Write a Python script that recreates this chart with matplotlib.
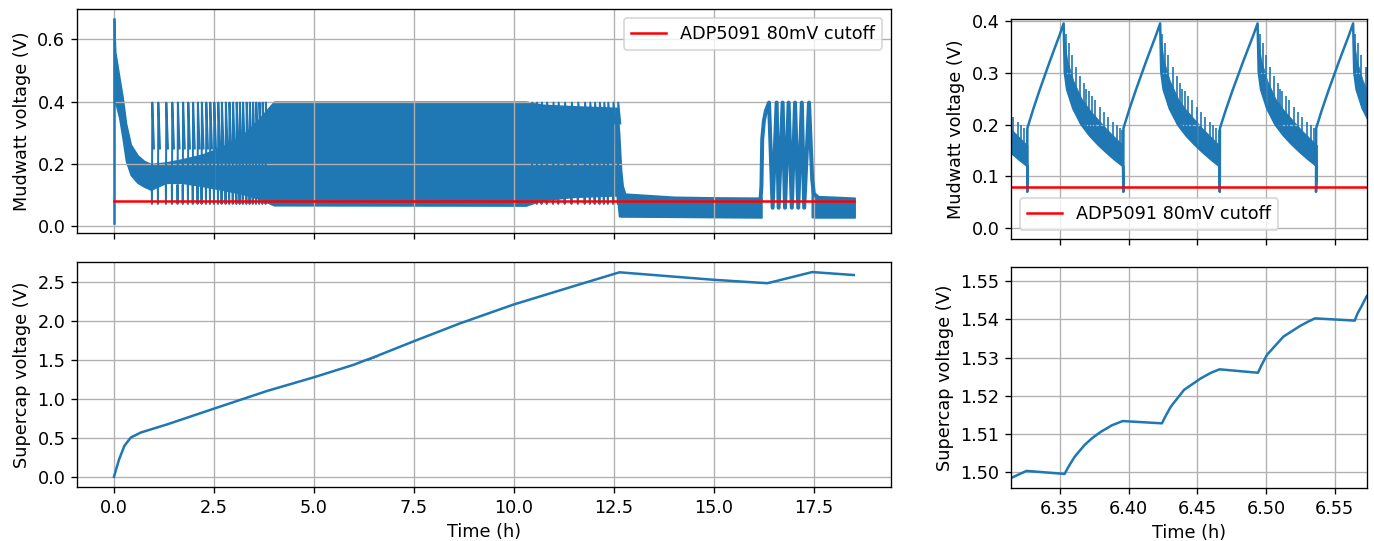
import numpy as np
import matplotlib.pyplot as plt

plt.rcParams["font.size"] = 10.6

BLUE = "#1f77b4"

# ---------------- Mudwatt voltage, whole run (h, V) ----------------
first_t = [0.0, 0.0]
first_v = [0.012, 0.664]

# initial MPPT transient, upper/lower edge of the thick band
start_t = [0.00, 0.03, 0.13, 0.22, 0.30, 0.42, 0.59, 0.75, 0.92]
start_hi = [0.664, 0.56, 0.48, 0.41, 0.33, 0.262, 0.228, 0.21, 0.20]
start_lo = [0.40, 0.40, 0.35, 0.28, 0.21, 0.165, 0.14, 0.128, 0.118]

# solid part of the harvesting band, then the low band after 12.7 h
band_t = [0.92, 1.3, 1.7, 2.2, 2.7, 3.2, 3.6, 4.0, 10.3, 10.7, 11.5, 12.58,
          12.63, 12.68, 12.72, 12.78, 14.0, 15.0, 16.19]
band_lo = [0.118, 0.14, 0.14, 0.13, 0.118, 0.105, 0.09, 0.068, 0.067, 0.085,
           0.095, 0.10, 0.033, 0.032, 0.032, 0.032, 0.031, 0.030, 0.029]
band_hi = [0.20, 0.205, 0.215, 0.23, 0.255, 0.29, 0.34, 0.40, 0.40, 0.39,
           0.385, 0.38, 0.30, 0.18, 0.13, 0.105, 0.095, 0.093, 0.092]

# separate charge cycles visible at the start and the end of the dense part
early_cycles = [0.95, 1.10, 1.30, 1.45, 1.59, 1.72, 1.85, 1.97, 2.09, 2.19,
                2.30, 2.40, 2.50, 2.60, 2.69, 2.79, 2.88, 2.97, 3.06, 3.14,
                3.22, 3.31, 3.39, 3.47, 3.55, 3.63, 3.71, 3.79]
late_cycles = [10.45, 10.57, 10.69, 10.82, 10.98, 11.11, 11.27, 11.44, 11.60,
               11.77, 11.90, 12.02, 12.14, 12.25, 12.35, 12.48, 12.60]

# second burst of cycles
burst_t = [16.17, 16.19, 16.21, 16.25, 16.30, 16.38, 16.47, 16.57, 16.62,
           16.72, 16.78, 16.87, 16.95, 17.03, 17.11, 17.20, 17.26, 17.38,
           17.46, 17.50, 17.56]
burst_v = [0.09, 0.13, 0.28, 0.337, 0.37, 0.397, 0.06, 0.397, 0.06, 0.397,
           0.06, 0.397, 0.06, 0.397, 0.06, 0.397, 0.06, 0.397, 0.15, 0.105, 0.098]

tail_t = [17.45, 17.52, 17.6, 18.0, 18.52]
tail_lo = [0.03, 0.029, 0.029, 0.029, 0.029]
tail_hi = [0.12, 0.10, 0.097, 0.095, 0.092]

cutoff_t = [0.0, 18.5]
cutoff_v = [0.08, 0.08]

# ---------------- Mudwatt voltage, zoomed cycles ----------------
dip_t = [6.2563, 6.3263, 6.3962, 6.4664, 6.5364]
peak_t = [6.2833, 6.3528, 6.4230, 6.4939, 6.5634]
ramp_frac = [0.0, 0.004, 0.166, 0.347, 0.619, 0.894, 1.0]
ramp_v = [0.070, 0.193, 0.230, 0.268, 0.322, 0.374, 0.3955]
# decay after the peak (h after peak)
decay_dt = [0.0008, 0.0025, 0.0070, 0.0130, 0.0190, 0.0250, 0.0310, 0.0370, 0.0432]
decay_lo = [0.302, 0.268, 0.231, 0.200, 0.179, 0.162, 0.147, 0.133, 0.120]
decay_hi = [0.36, 0.325, 0.285, 0.25, 0.228, 0.21, 0.192, 0.176, 0.16]
pulse_dt = [0.0015, 0.0036, 0.0060, 0.0092, 0.0121, 0.0145, 0.0162, 0.0181,
            0.0205, 0.0229, 0.0265, 0.0294, 0.0326, 0.0362, 0.0386, 0.0410, 0.0425]
pulse_base = [0.29, 0.258, 0.238, 0.22, 0.204, 0.194, 0.188, 0.182, 0.175,
              0.168, 0.158, 0.151, 0.143, 0.135, 0.129, 0.124, 0.121]
pulse_top = [0.375, 0.357, 0.334, 0.312, 0.293, 0.280, 0.268, 0.264, 0.255,
             0.247, 0.234, 0.225, 0.215, 0.205, 0.199, 0.193, 0.19]

# ---------------- Supercap voltage ----------------
cap_t = [0.0, 0.05, 0.13, 0.26, 0.42, 0.67, 1.34, 2.5, 3.83, 5.0, 6.0, 6.30,
         6.3150, 6.3258, 6.3535, 6.3565, 6.3608, 6.368, 6.3735, 6.380, 6.388,
         6.3958, 6.4243, 6.4265, 6.4308, 6.4404, 6.4525, 6.4600, 6.4662,
         6.4942, 6.4965, 6.5007, 6.5127, 6.5248, 6.5310, 6.5357, 6.5646,
         6.5665, 6.5694, 6.5731, 6.58, 7.5, 8.65, 9.98, 11.48, 12.64, 14.97,
         16.34, 17.46, 18.50]
cap_v = [0.0, 0.09, 0.226, 0.396, 0.503, 0.567, 0.673, 0.873, 1.10, 1.275,
         1.436, 1.4955, 1.4984, 1.5002, 1.4994, 1.5014, 1.5039, 1.507, 1.5088,
         1.5105, 1.5122, 1.5133, 1.5127, 1.5143, 1.5171, 1.5215, 1.5245,
         1.5260, 1.5269, 1.5260, 1.5278, 1.5307, 1.5355, 1.5383, 1.5395,
         1.5403, 1.5397, 1.5415, 1.5434, 1.5460, 1.549, 1.737, 1.965, 2.205,
         2.44, 2.62, 2.525, 2.48, 2.623, 2.585]


def cycle_marks(times, base, peak, tail, rise, fall):
    xs, ys = [], []
    for s in times:
        xs += [s - 0.005, s, s + rise, s + fall, np.nan]
        ys += [base, 0.072, peak, tail, np.nan]
    return xs, ys


W, H = 1374, 541
fig = plt.figure(figsize=(W / 120, H / 120), dpi=120)


def box(left, top, right, bottom):
    return [left / W, (H - bottom) / H, (right - left) / W, (bottom - top) / H]


ax1 = fig.add_axes(box(77, 9, 891, 233))
ax2 = fig.add_axes(box(77, 262, 891, 487), sharex=ax1)
ax3 = fig.add_axes(box(1011, 19, 1367, 239))
ax4 = fig.add_axes(box(1011, 267, 1367, 488), sharex=ax3)

# overview mudwatt
ax1.plot(first_t, first_v, color=BLUE)
ax1.fill_between(start_t, start_lo, start_hi, color=BLUE, lw=1)
ax1.fill_between(band_t, band_lo, band_hi, color=BLUE, lw=1)
ax1.fill_between(tail_t, tail_lo, tail_hi, color=BLUE, lw=1)
ex, ey = cycle_marks(early_cycles, 0.13, 0.397, 0.25, 0.008, 0.05)
ax1.plot(ex, ey, color=BLUE, lw=1.2)
lx, ly = cycle_marks(late_cycles, 0.10, 0.397, 0.33, 0.01, 0.06)
ax1.plot(lx, ly, color=BLUE, lw=1.2)
ax1.plot(burst_t, burst_v, color=BLUE, lw=2.4)
ax1.plot(cutoff_t, cutoff_v, color="red", label="ADP5091 80mV cutoff")
ax1.set_ylim(-0.021, 0.697)
ax1.set_ylabel("Mudwatt voltage (V)")
ax1.legend(loc="upper right")
ax1.grid(True)
ax1.tick_params(labelbottom=False)

# overview supercap
ax2.plot(cap_t, cap_v, color=BLUE)
ax2.set_ylim(-0.131, 2.752)
ax2.set_xlim(-0.925, 19.43)
ax2.set_xlabel("Time (h)")
ax2.set_ylabel("Supercap voltage (V)")
ax2.grid(True)

# zoomed mudwatt cycles
zx, zy = [], []
for d, p in zip(dip_t, peak_t):
    zx += [d + f * (p - d) for f in ramp_frac]
    zy += ramp_v
    zx += [p + dt for dt in decay_dt]
    zy += decay_lo
    ax3.fill_between([p + dt for dt in decay_dt], decay_lo, decay_hi,
                     color=BLUE, lw=0.5)
    ax3.vlines([p + dt for dt in pulse_dt], pulse_base, pulse_top,
               color=BLUE, lw=1.0)
ax3.plot(zx, zy, color=BLUE)
ax3.plot(cutoff_t, cutoff_v, color="red", label="ADP5091 80mV cutoff")
ax3.set_ylim(-0.021, 0.404)
ax3.set_yticks([0.0, 0.1, 0.2, 0.3, 0.4])
ax3.set_ylabel("Mudwatt voltage (V)")
ax3.legend(loc="lower left")
ax3.grid(True)
ax3.tick_params(labelbottom=False)

# zoomed supercap
ax4.plot(cap_t, cap_v, color=BLUE)
ax4.set_xlim(6.3145, 6.5735)
ax4.set_ylim(1.4957, 1.5538)
ax4.set_yticks([1.50, 1.51, 1.52, 1.53, 1.54, 1.55])
ax4.set_xticks([6.35, 6.40, 6.45, 6.50, 6.55])
ax4.set_xlabel("Time (h)")
ax4.set_ylabel("Supercap voltage (V)")
ax4.grid(True)

fig.savefig("out.png", dpi=120)
